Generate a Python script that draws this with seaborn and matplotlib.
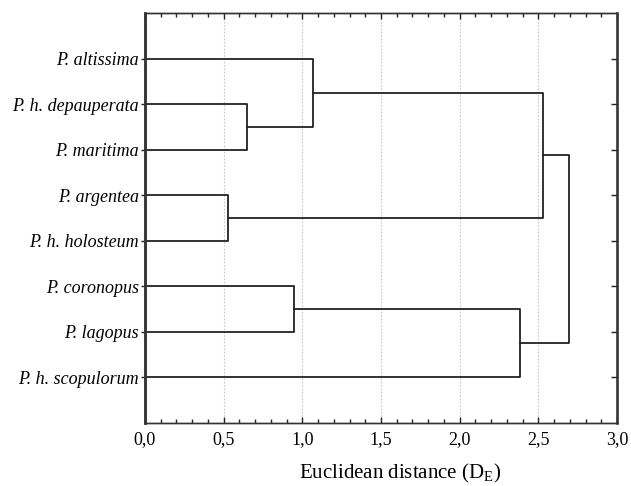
import matplotlib
matplotlib.use("Agg")
import matplotlib.pyplot as plt
import seaborn as sns
import pandas as pd
from matplotlib.ticker import MultipleLocator, FuncFormatter

# ---- data ----
leaves = ["P. altissima", "P. h. depauperata", "P. maritima", "P. argentea",
          "P. h. holosteum", "P. coronopus", "P. lagopus", "P. h. scopulorum"]
merge_a = ["P. h. depauperata", "P. altissima", "P. argentea", "n2",
           "P. coronopus", "n5", "n4"]
merge_b = ["P. maritima", "n1", "P. h. holosteum", "n3",
           "P. lagopus", "P. h. scopulorum", "n6"]
merge_h = [0.65, 1.07, 0.525, 2.53, 0.947, 2.386, 2.695]
x_ticks = [0.0, 0.5, 1.0, 1.5, 2.0, 2.5, 3.0]

# ---- build dendrogram segments from merge table ----
pos = {name: (0.0, i + 1) for i, name in enumerate(leaves)}
rows = []
for k, (a, b, h) in enumerate(zip(merge_a, merge_b, merge_h)):
    xa, ya = pos[a]
    xb, yb = pos[b]
    for j, (xx, yy) in enumerate([(xa, ya), (h, ya), (h, yb), (xb, yb)]):
        rows.append({"seg": k, "order": j, "x": xx, "y": yy})
    pos[f"n{k+1}"] = (h, (ya + yb) / 2)
df = pd.DataFrame(rows)

sns.set_theme(style="white")
plt.rcParams["font.family"] = ["Liberation Serif", "DejaVu Serif"]
plt.rcParams["mathtext.fontset"] = "custom"
plt.rcParams["mathtext.rm"] = "Liberation Serif"
plt.rcParams["text.color"] = "black"
plt.rcParams["axes.labelcolor"] = "black"
plt.rcParams["xtick.labelcolor"] = "black"
plt.rcParams["ytick.labelcolor"] = "black"

fig = plt.figure(figsize=(6.31, 4.86), dpi=100)
ax = fig.add_axes([145/631, 1-423/486, (617-145)/631, (423-13)/486])

sns.lineplot(data=df, x="x", y="y", units="seg", estimator=None, sort=False,
             color="#222222", linewidth=1.3, ax=ax, legend=False)

ax.set_xlim(0, 3.0)
ax.set_ylim(9, 0)
ax.set_xticks(x_ticks)
ax.xaxis.set_minor_locator(MultipleLocator(0.1))
ax.xaxis.set_major_formatter(FuncFormatter(lambda v, p: f"{v:.1f}".replace(".", ",")))
ax.set_yticks(range(1, len(leaves) + 1))
ax.set_yticklabels(leaves, fontstyle="italic", fontsize=13, color="black")

for v in x_ticks[1:-1]:
    ax.axvline(v, color="#c8c8c8", linestyle=(0, (1.5, 1.5)), linewidth=0.8, zorder=0)

ax.tick_params(axis="x", which="major", direction="in", top=True, bottom=True,
               length=4, width=1, color="#222222", labelsize=13, pad=6,
               labelcolor="black")
ax.tick_params(axis="x", which="minor", direction="in", top=True, bottom=True,
               length=3, width=1, color="#222222")
ax.tick_params(axis="y", which="major", direction="out", left=True, length=3,
               width=1, color="#222222", pad=1.5, labelcolor="black")

ax2 = ax.twinx()
ax2.set_ylim(9, 0)
ax2.set_yticks(range(1, len(leaves) + 1))
ax2.tick_params(axis="y", direction="in", right=True, length=4, width=1,
                color="#222222", labelright=False)
ax2.grid(False)

for a in (ax, ax2):
    for s in a.spines.values():
        s.set_color("#333333")
        s.set_linewidth(1.0)
ax.spines["left"].set_linewidth(1.8)
ax2.spines["right"].set_linewidth(1.8)
ax2.spines["left"].set_linewidth(1.8)

ax.set_xlabel("Euclidean distance (D$_\\mathrm{E}$)", fontsize=15, labelpad=9,
              color="black")
ax.xaxis.set_label_coords(0.54, -0.095)
ax.set_ylabel("")

fig.savefig("out.png", dpi=100)
